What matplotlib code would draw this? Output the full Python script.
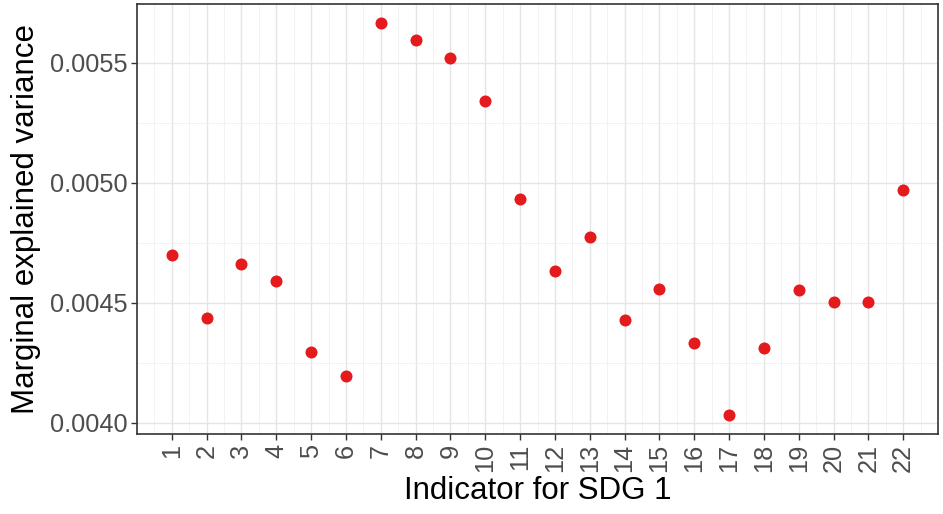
import numpy as np
import matplotlib
matplotlib.use('Agg')
import matplotlib.pyplot as plt
from matplotlib.ticker import MultipleLocator

plt.rcParams['font.family'] = ['Liberation Sans', 'DejaVu Sans']

# data
indicators = list(range(1, 23))
variance = [0.004700, 0.004437, 0.004661, 0.004590, 0.004296, 0.004192,
            0.005667, 0.005596, 0.005522, 0.005340, 0.004933, 0.004633,
            0.004775, 0.004426, 0.004557, 0.004332, 0.004030, 0.004311,
            0.004553, 0.004504, 0.004504, 0.004971]
yticks = [0.0040, 0.0045, 0.0050, 0.0055]

fig = plt.figure(figsize=(9.43, 5.14), dpi=100)
ax = fig.add_axes([0.1453, 0.1556, 0.8494, 0.8366])

ax.scatter(indicators, variance, s=75, color='#E41A1C', zorder=3, linewidths=0)

ax.set_xlim(0, 23)
ax.set_ylim(0.003952, 0.005746)
ax.set_xticks(indicators)
ax.set_xticklabels([str(i) for i in indicators], rotation=90)
ax.xaxis.set_minor_locator(MultipleLocator(0.5))
ax.set_yticks(yticks)
ax.set_yticklabels([f'{v:.4f}' for v in yticks])
ax.yaxis.set_minor_locator(MultipleLocator(0.00025))

ax.grid(which='major', color='#E5E5E5', linewidth=1.0)
ax.grid(which='minor', color='#F0F0F0', linewidth=0.6)
ax.set_axisbelow(True)

for s in ax.spines.values():
    s.set_color('#333333')
    s.set_linewidth(1.2)

ax.tick_params(which='major', length=4, width=1, color='#333333',
               labelsize=18.3, labelcolor='#4D4D4D', pad=3)
ax.tick_params(which='minor', length=0)

ax.set_xlabel('Indicator for SDG 1', fontsize=22.5, labelpad=3)
ax.set_ylabel('Marginal explained variance', fontsize=22.5, labelpad=6)

plt.savefig('out.png', dpi=100)
